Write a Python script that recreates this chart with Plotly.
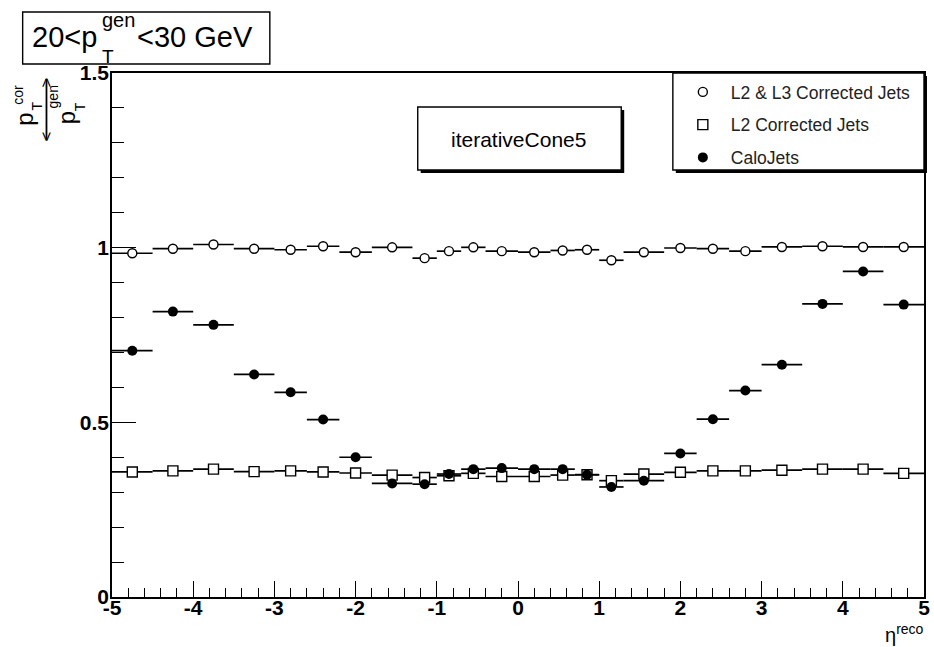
import plotly.graph_objects as go

# ---------------- data ----------------
ETA = [-4.75, -4.25, -3.75, -3.25, -2.8, -2.4, -2.0, -1.55, -1.15, -0.85, -0.55, -0.2,
       0.2, 0.55, 0.85, 1.15, 1.55, 2.0, 2.4, 2.8, 3.25, 3.75, 4.25, 4.75]
ETA_HALF_WIDTH = [0.25, 0.25, 0.25, 0.25, 0.2, 0.2, 0.2, 0.25, 0.15, 0.15, 0.15, 0.2,
                  0.2, 0.15, 0.15, 0.15, 0.25, 0.2, 0.2, 0.2, 0.25, 0.25, 0.25, 0.25]

L2L3_RESP = [0.984, 0.997, 1.009, 0.997, 0.994, 1.004, 0.987, 1.001, 0.970, 0.990, 1.001, 0.990,
             0.987, 0.992, 0.994, 0.964, 0.987, 0.999, 0.997, 0.990, 1.002, 1.004, 1.002, 1.002]
L2_RESP = [0.358, 0.361, 0.366, 0.359, 0.361, 0.358, 0.355, 0.349, 0.342, 0.347, 0.354, 0.345,
           0.345, 0.349, 0.350, 0.333, 0.352, 0.357, 0.361, 0.361, 0.363, 0.366, 0.366, 0.354]
CALO_RESP = [0.705, 0.817, 0.779, 0.637, 0.586, 0.508, 0.400, 0.325, 0.323, 0.352, 0.366, 0.369,
             0.366, 0.366, 0.350, 0.315, 0.333, 0.411, 0.509, 0.591, 0.665, 0.839, 0.932, 0.837]

SERIES_NAMES = ["L2 & L3 Corrected Jets", "L2 Corrected Jets", "CaloJets"]

X_TICKS = [-5, -4, -3, -2, -1, 0, 1, 2, 3, 4, 5]
X_TICK_LABELS = ["-5", "-4", "-3", "-2", "-1", "0", "1", "2", "3", "4", "5"]
Y_TICKS = [0, 0.5, 1, 1.5]
Y_TICK_LABELS = ["0", "0.5", "1", "1.5"]

# ---------------- layout geometry (pixels) ----------------
W, H = 934, 647
ML, MR, MT, MB = 112, 4, 73, 50
PW = W - ML - MR
PH = H - MT - MB
FONT = "Liberation Sans, Arial, Helvetica, sans-serif"


def fx(px):
    return (px - ML) / PW


def fy(py):
    return (H - MB - py) / PH


fig = go.Figure()

styles = [
    dict(symbol="circle", size=9, color="white", line=dict(color="black", width=1.4)),
    dict(symbol="square", size=10, color="white", line=dict(color="black", width=1.4)),
    dict(symbol="circle", size=10, color="black", line=dict(color="black", width=0)),
]
for name, vals, mk in zip(SERIES_NAMES, [L2L3_RESP, L2_RESP, CALO_RESP], styles):
    fig.add_trace(go.Scatter(
        x=ETA, y=vals, mode="markers", name=name, legendgroup=name,
        marker=mk,
        error_x=dict(type="data", array=ETA_HALF_WIDTH, symmetric=True,
                     color="black", thickness=1.7, width=0),
    ))

axis_common = dict(
    showline=True, linecolor="black", linewidth=1.5, mirror=True,
    ticks="inside", tickcolor="black", tickwidth=1.3,
    showgrid=False, zeroline=False,
    tickfont=dict(family=FONT, size=21, color="black", weight="bold"),
    tickmode="array", ticklabeloverflow="allow",
)

fig.update_xaxes(
    range=[-5, 5], tickvals=X_TICKS, ticktext=X_TICK_LABELS, ticklen=16,
    minor=dict(dtick=0.2, tick0=0, ticks="inside", ticklen=9, tickcolor="black", tickwidth=1.3),
    ticklabelstandoff=-9,
    **axis_common,
)
fig.update_yaxes(
    range=[0, 1.5], tickvals=Y_TICKS, ticktext=Y_TICK_LABELS, ticklen=24,
    minor=dict(dtick=0.1, tick0=0, ticks="inside", ticklen=12, tickcolor="black", tickwidth=1.3),
    ticklabelstandoff=-3,
    **axis_common,
)

shapes = []
annotations = []


def rect(x0, y0, x1, y1, fill="white", lw=1.4):
    shapes.append(dict(type="rect", xref="paper", yref="paper",
                       x0=fx(x0), x1=fx(x1), y0=fy(y0), y1=fy(y1),
                       line=dict(color="black", width=lw), fillcolor=fill, layer="above"))


def ann(text, x, y, size, xanchor="center", yanchor="middle", angle=0, bold=False):
    annotations.append(dict(
        text=text, x=fx(x), y=fy(y), xref="paper", yref="paper",
        xanchor=xanchor, yanchor=yanchor, showarrow=False, textangle=angle,
        font=dict(family=FONT, size=size, color="black", weight="bold" if bold else "normal"),
    ))


# title box
rect(22, 12, 271, 64)
ann("20&lt;p", 29, 37, 29, xanchor="left")
ann("gen", 100, 20, 20, xanchor="left")
ann("T", 100, 56, 19, xanchor="left")
ann("&lt;30 GeV", 135, 37, 29, xanchor="left")

# iterativeCone5 box with shadow
rect(423, 110, 628, 173, fill="black", lw=0)
rect(420, 107, 625, 170)
ann("iterativeCone5", 522, 139, 21)

# legend box
rect(680, 76, 933, 173, fill="black", lw=0)
rect(677, 73, 930, 170)

# y-axis title (rotated fraction)
ann("p", 24, 119, 24, angle=-90)
ann("cor", 17, 95, 14, angle=-90)
ann("T", 36, 106, 14, angle=-90)
shapes.append(dict(type="line", xref="paper", yref="paper",
                   x0=fx(46), x1=fx(46), y0=fy(79), y1=fy(139),
                   line=dict(color="black", width=1.8)))
ann("&lt;", 46, 136, 17, angle=-90)
ann("&gt;", 46, 82, 17, angle=-90)
ann("gen", 53, 97, 14, angle=-90)
ann("p", 66, 118, 24, angle=-90)
ann("T", 80, 107, 14, angle=-90)

# x-axis title
ann("η<sup>reco</sup>", 932, 633, 20, xanchor="right")

fig.update_layout(
    width=W, height=H, autosize=False,
    margin=dict(l=ML, r=MR, t=MT, b=MB, pad=0),
    paper_bgcolor="white", plot_bgcolor="white",
    showlegend=True,
    legend=dict(
        x=fx(679), y=fy(74), xanchor="left", yanchor="top",
        bgcolor="rgba(0,0,0,0)", borderwidth=0,
        font=dict(family=FONT, size=17.5, color="#222222"),
        itemwidth=46, tracegroupgap=7, traceorder="grouped",
    ),
    shapes=shapes,
    annotations=annotations,
)

fig.write_html("out.html")
